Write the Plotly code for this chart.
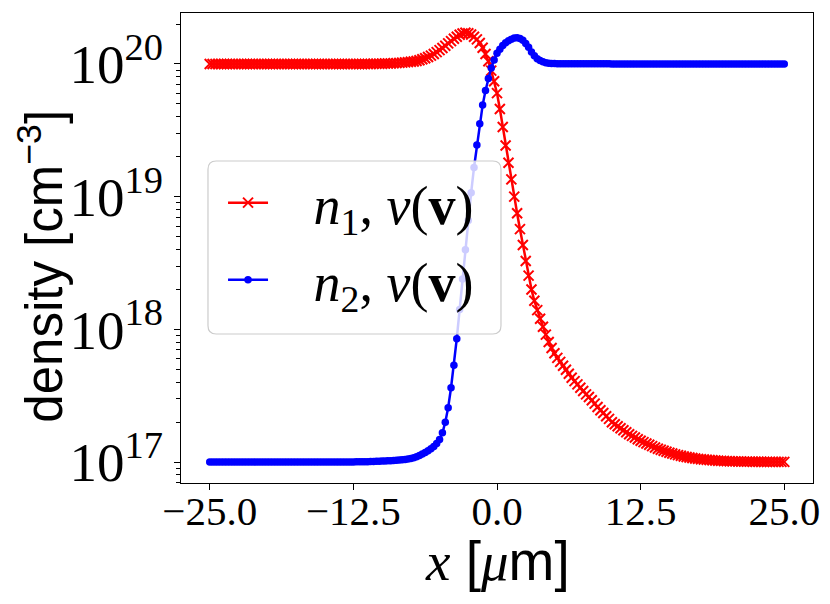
import numpy as np
import plotly.graph_objects as go

# sample grid along x [um]
x_um = np.linspace(-25.0, 25.0, 201)

# log10 of n1 density [cm^-3], one row per micrometre (x, x+0.25, x+0.5, x+0.75)
n1_log10 = [
    20.0, 20.0, 20.0, 20.0,  # -25
    20.0, 20.0, 20.0, 20.0,  # -24
    20.0, 20.0, 20.0, 20.0,  # -23
    20.0, 20.0, 20.0, 20.0,  # -22
    20.0, 20.0, 20.0, 20.0,  # -21
    20.0, 20.0, 20.0, 20.0,  # -20
    20.0, 20.0, 20.0, 20.0,  # -19
    20.0, 20.0, 20.0, 20.0,  # -18
    20.0, 20.0, 20.0, 20.0,  # -17
    20.0, 20.0, 20.0, 20.0,  # -16
    20.0, 20.0, 20.0, 20.0,  # -15
    20.0, 20.0, 20.0, 20.0,  # -14
    20.0, 20.0, 20.0, 20.0,  # -13
    20.0, 20.0, 20.0, 20.0,  # -12
    20.000, 20.001, 20.001, 20.002,  # -11
    20.002, 20.003, 20.003, 20.004,  # -10
    20.005, 20.006, 20.008, 20.010,  # -9
    20.012, 20.014, 20.016, 20.019,  # -8
    20.022, 20.028, 20.035, 20.043,  # -7
    20.052, 20.063, 20.075, 20.089,  # -6
    20.104, 20.120, 20.137, 20.155,  # -5
    20.172, 20.190, 20.205, 20.220,  # -4
    20.230, 20.235, 20.232, 20.222,  # -3
    20.205, 20.185, 20.158, 20.122,  # -2
    20.075, 20.020, 19.950, 19.870,  # -1
    19.780, 19.660, 19.525, 19.385,  # 0
    19.255, 19.130, 19.000, 18.875,  # 1
    18.755, 18.635, 18.515, 18.405,  # 2
    18.300, 18.215, 18.145, 18.080,  # 3
    18.020, 17.960, 17.905, 17.860,  # 4
    17.820, 17.785, 17.755, 17.725,  # 5
    17.695, 17.665, 17.635, 17.610,  # 6
    17.585, 17.560, 17.535, 17.510,  # 7
    17.490, 17.465, 17.440, 17.415,  # 8
    17.390, 17.370, 17.345, 17.325,  # 9
    17.300, 17.285, 17.270, 17.255,  # 10
    17.240, 17.225, 17.210, 17.197,  # 11
    17.185, 17.172, 17.160, 17.150,  # 12
    17.140, 17.130, 17.120, 17.110,  # 13
    17.100, 17.092, 17.085, 17.077,  # 14
    17.070, 17.064, 17.058, 17.052,  # 15
    17.047, 17.042, 17.038, 17.034,  # 16
    17.030, 17.027, 17.024, 17.021,  # 17
    17.019, 17.017, 17.015, 17.013,  # 18
    17.012, 17.010, 17.009, 17.008,  # 19
    17.007, 17.006, 17.005, 17.005,  # 20
    17.004, 17.004, 17.003, 17.003,  # 21
    17.003, 17.002, 17.002, 17.002,  # 22
    17.002, 17.001, 17.001, 17.001,  # 23
    17.001, 17.001, 17.001, 17.001,  # 24
    17.001,                          # 25
]

# log10 of n2 density [cm^-3]
n2_log10 = [
    17.0, 17.0, 17.0, 17.0,  # -25
    17.0, 17.0, 17.0, 17.0,  # -24
    17.0, 17.0, 17.0, 17.0,  # -23
    17.0, 17.0, 17.0, 17.0,  # -22
    17.0, 17.0, 17.0, 17.0,  # -21
    17.0, 17.0, 17.0, 17.0,  # -20
    17.0, 17.0, 17.0, 17.0,  # -19
    17.0, 17.0, 17.0, 17.0,  # -18
    17.0, 17.0, 17.0, 17.0,  # -17
    17.0, 17.0, 17.0, 17.0,  # -16
    17.0, 17.0, 17.0, 17.0,  # -15
    17.0, 17.0, 17.0, 17.0,  # -14
    17.001, 17.001, 17.001, 17.002,  # -13
    17.002, 17.002, 17.003, 17.003,  # -12
    17.004, 17.004, 17.005, 17.006,  # -11
    17.007, 17.008, 17.009, 17.010,  # -10
    17.012, 17.013, 17.015, 17.017,  # -9
    17.020, 17.023, 17.027, 17.033,  # -8
    17.040, 17.050, 17.060, 17.072,  # -7
    17.085, 17.100, 17.118, 17.140,  # -6
    17.170, 17.220, 17.300, 17.410,  # -5
    17.560, 17.730, 17.930, 18.150,  # -4
    18.380, 18.600, 18.820, 19.030,  # -3
    19.220, 19.390, 19.550, 19.690,  # -2
    19.800, 19.890, 19.970, 20.030,  # -1
    20.080, 20.110, 20.140, 20.160,  # 0
    20.175, 20.187, 20.195, 20.197,  # 1
    20.192, 20.178, 20.155, 20.125,  # 2
    20.090, 20.062, 20.040, 20.026,  # 3
    20.016, 20.010, 20.006, 20.004,  # 4
    20.003, 20.002, 20.002, 20.001,  # 5
    20.001, 20.001, 20.001, 20.001,  # 6
    20.001, 20.001, 20.001, 20.001,  # 7
    20.001, 20.001, 20.001, 20.001,  # 8
    20.001, 20.001, 20.001, 20.001,  # 9
    20.0, 20.0, 20.0, 20.0,  # 10
    20.0, 20.0, 20.0, 20.0,  # 11
    20.0, 20.0, 20.0, 20.0,  # 12
    20.0, 20.0, 20.0, 20.0,  # 13
    20.0, 20.0, 20.0, 20.0,  # 14
    20.0, 20.0, 20.0, 20.0,  # 15
    20.0, 20.0, 20.0, 20.0,  # 16
    20.0, 20.0, 20.0, 20.0,  # 17
    20.0, 20.0, 20.0, 20.0,  # 18
    20.0, 20.0, 20.0, 20.0,  # 19
    20.0, 20.0, 20.0, 20.0,  # 20
    20.0, 20.0, 20.0, 20.0,  # 21
    20.0, 20.0, 20.0, 20.0,  # 22
    20.0, 20.0, 20.0, 20.0,  # 23
    20.0, 20.0, 20.0, 20.0,  # 24
    20.0,                    # 25
]

x_tick_vals = [-25.0, -12.5, 0.0, 12.5, 25.0]
x_tick_text = ["\u221225.0", "\u221212.5", "0.0", "12.5", "25.0"]
y_tick_exps = [17, 18, 19, 20]

SERIF = "Liberation Serif"
SANS = "Liberation Sans"

n1 = 10.0 ** np.array(n1_log10)
n2 = 10.0 ** np.array(n2_log10)

fig = go.Figure()

# the extra spaces push the legend text away from the symbol, as in the original
fig.add_trace(go.Scatter(
    x=x_um, y=n1,
    mode='lines+markers',
    name='\u2002\u2005<i>n</i><sub>1</sub>, <i>\u03bd</i>(<b>v</b>)',
    legendgroup='n1',
    line=dict(color='red', width=2.5),
    marker=dict(symbol='x-thin', size=10, color='red', line=dict(width=2, color='red')),
))

fig.add_trace(go.Scatter(
    x=x_um, y=n2,
    mode='lines+markers',
    name='\u2002\u2005<i>n</i><sub>2</sub>, <i>\u03bd</i>(<b>v</b>)',
    legendgroup='n2',
    line=dict(color='blue', width=2.5),
    marker=dict(symbol='circle', size=7.5, color='blue'),
))

# rounded, semi-transparent legend frame (matplotlib style)
lx0, lx1, ly0, ly1 = 0.0427, 0.5063, 0.317, 0.6851
rx, ry = 0.013, 0.0175
frame = (f"M{lx0 + rx},{ly0} L{lx1 - rx},{ly0} Q{lx1},{ly0} {lx1},{ly0 + ry} "
         f"L{lx1},{ly1 - ry} Q{lx1},{ly1} {lx1 - rx},{ly1} "
         f"L{lx0 + rx},{ly1} Q{lx0},{ly1} {lx0},{ly1 - ry} "
         f"L{lx0},{ly0 + ry} Q{lx0},{ly0} {lx0 + rx},{ly0} Z")
fig.add_shape(type='path', path=frame, xref='paper', yref='paper', layer='above',
              fillcolor='rgba(255,255,255,0.8)', line=dict(color='rgb(204,204,204)', width=1.2))

axis_common = dict(
    showline=True, mirror=True, linecolor='black', linewidth=1.2,
    ticks='outside', ticklen=6, tickwidth=1.2, tickcolor='black',
    showgrid=False, zeroline=False, automargin=False,
)

fig.update_xaxes(
    range=[-27.5, 27.5],
    tickmode='array', tickvals=x_tick_vals, ticktext=x_tick_text,
    tickfont=dict(family=SERIF, size=41, color='black'),
    ticklabelstandoff=-14,
    **axis_common,
)

fig.update_yaxes(
    type='log',
    range=[16.842, 20.384],
    tickmode='array',
    tickvals=[10.0 ** e for e in y_tick_exps],
    ticktext=[f"10<sup>{e}</sup>" for e in y_tick_exps],
    tickfont=dict(family=SERIF, size=55, color='black'),
    minor=dict(
        tickmode='array',
        tickvals=[m * 10.0 ** e for e in range(16, 21) for m in range(2, 10)],
        ticks='outside', ticklen=3.5, tickwidth=1, tickcolor='black',
    ),
    **axis_common,
)

fig.add_annotation(
    text="density [cm<sup>\u22123</sup>]",
    xref='paper', yref='paper', x=-0.222, y=0.4617,
    xanchor='center', yanchor='middle', textangle=-90, showarrow=False,
    font=dict(family=SANS, size=51, color='black'),
)
fig.add_annotation(
    text=(f"<span style='font-family:{SERIF}'><i>x</i></span> "
          f"[<span style='font-family:{SERIF}'><i>\u03bc</i></span>m]"),
    xref='paper', yref='paper', x=0.5, y=-0.166,
    xanchor='center', yanchor='middle', showarrow=False,
    font=dict(family=SANS, size=55, color='black'),
)

# the page adds an 8 px body margin, so the figure is sized 8 px smaller
fig.update_layout(
    template='none',
    width=822, height=596,
    margin=dict(l=173, r=17, t=5, b=121),
    paper_bgcolor='white', plot_bgcolor='white',
    showlegend=True,
    legend=dict(
        x=0.0665, y=0.685, xanchor='left', yanchor='top',
        bgcolor='rgba(0,0,0,0)', borderwidth=0,
        font=dict(family=SERIF, size=54, color='black'),
        tracegroupgap=4, itemwidth=40,
    ),
)

fig.write_html("out.html")
